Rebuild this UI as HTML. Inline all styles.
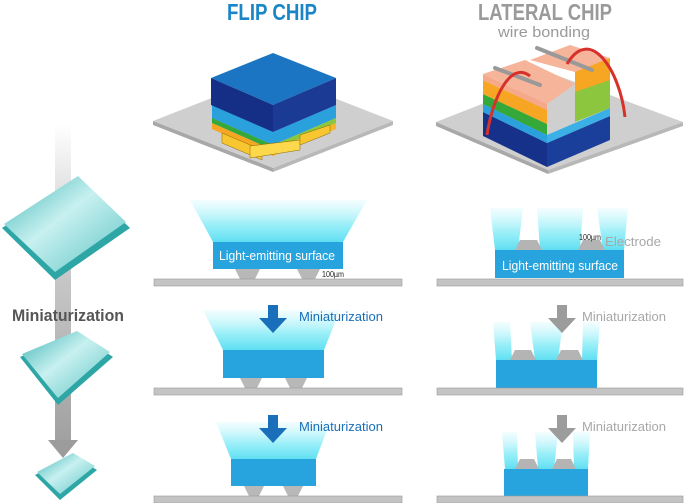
<!DOCTYPE html>
<html><head><meta charset="utf-8"><style>
html,body{margin:0;padding:0;background:#fff;}
svg{display:block;}
text{font-family:"Liberation Sans",sans-serif;}
</style></head><body>
<svg width="684" height="503" viewBox="0 0 684 503" xmlns="http://www.w3.org/2000/svg">
<defs>
<linearGradient id="glow" x1="0" y1="0" x2="0" y2="1">
<stop offset="0" stop-color="#aef4fb" stop-opacity="0.15"/>
<stop offset="0.6" stop-color="#7eeaf6" stop-opacity="0.8"/>
<stop offset="1" stop-color="#5fdff2"/>
</linearGradient>
<linearGradient id="bar" x1="0" y1="0" x2="0" y2="1">
<stop offset="0" stop-color="#fff"/>
<stop offset="0.3" stop-color="#d4d4d4"/>
<stop offset="1" stop-color="#a0a0a0"/>
</linearGradient>
<linearGradient id="chipg" x1="0" y1="0" x2="1" y2="1">
<stop offset="0" stop-color="#3fb5b5"/>
<stop offset="0.45" stop-color="#c8f0f0"/>
<stop offset="1" stop-color="#5cc4c4"/>
</linearGradient>
</defs>

<!-- titles -->
<text x="227" y="20" font-size="23" font-weight="bold" fill="#1a86c8" textLength="90" lengthAdjust="spacingAndGlyphs">FLIP CHIP</text>
<text x="478" y="20" font-size="23" font-weight="bold" fill="#9a9a9a" textLength="134" lengthAdjust="spacingAndGlyphs">LATERAL CHIP</text>
<text x="498" y="37" font-size="15" fill="#9a9a9a" textLength="92" lengthAdjust="spacingAndGlyphs">wire bonding</text>

<!-- left column -->
<rect x="55" y="125" width="16" height="320" fill="url(#bar)"/>
<polygon points="48,440 78,440 63,458" fill="#9c9c9c"/>
<g>
<polygon points="2,228 78,178 130,228 55,280" fill="#2ea6a6"/>
<polygon points="4,224 78,176 126,222 55,272" fill="url(#chipg)"/>
</g>
<g>
<polygon points="20,357 77,333 113,357 58,405" fill="#2ea6a6"/>
<polygon points="22,354 77,331 110,352 58,398" fill="url(#chipg)"/>
</g>
<g>
<polygon points="35,475 73,455 97,470 60,500" fill="#2ea6a6"/>
<polygon points="37,472 73,453 95,466 60,494" fill="url(#chipg)"/>
</g>
<text x="12" y="321" font-size="17" font-weight="bold" fill="#555" textLength="112" lengthAdjust="spacingAndGlyphs">Miniaturization</text>

<!-- top flip chip -->
<polygon points="153,121 273,74 393,121 273,168" fill="#cfcfcf"/>
<polygon points="153,121 273,168 273,172 153,125" fill="#a8a8a8"/>
<polygon points="273,168 393,121 393,125 273,172" fill="#b8b8b8"/>
<polygon points="212,105 273,132 273,145 212,118" fill="#2aa0dc"/>
<polygon points="273,132 336,105 336,118 273,145" fill="#2aa0dc"/>
<polygon points="212,118 273,145 273,150 212,123" fill="#35a83a"/>
<polygon points="273,145 336,118 336,123 273,150" fill="#8cc63f"/>
<polygon points="212,123 273,150 273,156 212,129" fill="#f6a623"/>
<polygon points="273,150 336,123 336,129 273,156" fill="#f6b52a"/>
<polygon points="222,133 262,150 262,160 222,143" fill="#f7c630" stroke="#8a6a00" stroke-width="0.5"/>
<polygon points="250,146 300,140 300,150 250,158" fill="#fcd84c" stroke="#8a6a00" stroke-width="0.5"/>
<polygon points="300,135 330,125 330,133 300,145" fill="#f7c630" stroke="#8a6a00" stroke-width="0.5"/>
<polygon points="273,53 336,78 273,105 211,78" fill="#1b75c2"/>
<polygon points="211,78 273,105 273,132 211,105" fill="#162f86"/>
<polygon points="273,105 336,78 336,105 273,132" fill="#1a3a94"/>

<!-- top lateral chip -->
<polygon points="436,122 556,75 683,122 548,170" fill="#cfcfcf"/>
<polygon points="436,122 548,170 548,174 436,126" fill="#a8a8a8"/>
<polygon points="548,170 683,122 683,126 548,174" fill="#b8b8b8"/>
<polygon points="483,112 547,143 547,167 483,136" fill="#16318a"/>
<polygon points="547,143 610,116 610,140 547,167" fill="#1a3f9a"/>
<polygon points="483,104 547,135 547,143 483,112" fill="#2aa0dc"/>
<polygon points="547,135 610,108 610,116 547,143" fill="#3ab0e6"/>
<polygon points="483,94 547,124 547,135 483,104" fill="#35a83a"/>
<polygon points="483,80 547,110 547,124 483,94" fill="#f6a623"/>
<polygon points="483,74 547,104 547,110 483,80" fill="#f5a98a"/>
<polygon points="483,74 525,60 575,84 547,104" fill="#f6b49a"/>
<polygon points="575,84 610,72 610,108 575,122" fill="#8cc63f"/>
<polygon points="575,70 610,58 610,80 575,92" fill="#f6a623"/>
<polygon points="530,60 570,45 610,58 575,72" fill="#f6b49a"/>
<line x1="495" y1="68" x2="540" y2="85" stroke="#999" stroke-width="4" stroke-linecap="round"/>
<line x1="537" y1="48" x2="592" y2="70" stroke="#999" stroke-width="4" stroke-linecap="round"/>
<path d="M487,135 C492,100 510,60 530,76" stroke="#d8302a" stroke-width="3" fill="none"/>
<path d="M567,64 C590,25 620,70 625,117" stroke="#d8302a" stroke-width="3" fill="none"/>

<!-- Row 1 flip -->
<polygon points="190,200 367,200 343,242 213,242" fill="url(#glow)"/>
<polygon points="235,269 260,269 255,279 240,279" fill="#b8b8b8"/>
<polygon points="297,269 320,269 315,279 302,279" fill="#b8b8b8"/>
<rect x="213" y="242" width="130" height="27" fill="#27a4de"/>
<text x="219" y="260" font-size="13" fill="#fff" textLength="116" lengthAdjust="spacingAndGlyphs">Light-emitting surface</text>
<rect x="154" y="279" width="248" height="7" fill="#c4c4c4" stroke="#999" stroke-width="0.6"/>
<text x="322" y="277" font-size="8" fill="#222" textLength="22" lengthAdjust="spacingAndGlyphs">100µm</text>

<!-- Row 2 flip -->
<polygon points="203,310 340,310 324,350 223,350" fill="url(#glow)"/>
<polygon points="240,378 262,378 257,388 245,388" fill="#b8b8b8"/>
<polygon points="285,378 307,378 302,388 290,388" fill="#b8b8b8"/>
<rect x="223" y="350" width="101" height="28" fill="#27a4de"/>
<rect x="154" y="388" width="248" height="7" fill="#c4c4c4" stroke="#999" stroke-width="0.6"/>
<rect x="268" y="305" width="10" height="14" fill="#1a6fba"/>
<polygon points="259,318 287,318 273,333" fill="#1a6fba"/>
<text x="299" y="321" font-size="13" fill="#1a6fba" textLength="84" lengthAdjust="spacingAndGlyphs">Miniaturization</text>

<!-- Row 3 flip -->
<polygon points="216,422 330,422 316,459 231,459" fill="url(#glow)"/>
<polygon points="244,486 264,486 259,496 249,496" fill="#b8b8b8"/>
<polygon points="283,486 303,486 298,496 288,496" fill="#b8b8b8"/>
<rect x="231" y="459" width="85" height="27" fill="#27a4de"/>
<rect x="154" y="496" width="248" height="7" fill="#c4c4c4" stroke="#999" stroke-width="0.6"/>
<rect x="268" y="415" width="10" height="14" fill="#1a6fba"/>
<polygon points="259,428 287,428 273,443" fill="#1a6fba"/>
<text x="299" y="431" font-size="13" fill="#1a6fba" textLength="84" lengthAdjust="spacingAndGlyphs">Miniaturization</text>

<!-- Row 1 lateral -->
<polygon points="490,208 523,208 518,250 495,250" fill="url(#glow)"/>
<polygon points="537,208 583,208 580,250 540,250" fill="url(#glow)"/>
<polygon points="597,208 628,208 624,250 603,250" fill="url(#glow)"/>
<polygon points="520,240 537,240 542,250 515,250" fill="#b4b4b4"/>
<polygon points="583,240 600,240 605,250 578,250" fill="#b4b4b4"/>
<rect x="495" y="250" width="129" height="28" fill="#27a4de"/>
<text x="502" y="270" font-size="13" fill="#fff" textLength="116" lengthAdjust="spacingAndGlyphs">Light-emitting surface</text>
<rect x="437" y="279" width="246" height="7" fill="#c4c4c4" stroke="#999" stroke-width="0.6"/>
<text x="579" y="240" font-size="8" fill="#222" textLength="22" lengthAdjust="spacingAndGlyphs">100µm</text>
<text x="605" y="246" font-size="13" fill="#a8a8a8" textLength="56" lengthAdjust="spacingAndGlyphs">Electrode</text>

<!-- Row 2 lateral -->
<polygon points="493,322 510,322 512,360 496,360" fill="url(#glow)"/>
<polygon points="530,322 563,322 558,360 535,360" fill="url(#glow)"/>
<polygon points="583,322 600,322 597,360 582,360" fill="url(#glow)"/>
<polygon points="515,350 531,350 536,360 510,360" fill="#b4b4b4"/>
<polygon points="561,350 578,350 583,360 556,360" fill="#b4b4b4"/>
<rect x="496" y="360" width="101" height="28" fill="#27a4de"/>
<rect x="437" y="388" width="246" height="7" fill="#c4c4c4" stroke="#999" stroke-width="0.6"/>
<rect x="557" y="305" width="10" height="14" fill="#9c9c9c"/>
<polygon points="548,318 576,318 562,333" fill="#9c9c9c"/>
<text x="582" y="321" font-size="13" fill="#a8a8a8" textLength="84" lengthAdjust="spacingAndGlyphs">Miniaturization</text>

<!-- Row 3 lateral -->
<polygon points="502,432 517,432 518,469 505,469" fill="url(#glow)"/>
<polygon points="535,432 558,432 554,469 538,469" fill="url(#glow)"/>
<polygon points="573,432 590,432 588,469 574,469" fill="url(#glow)"/>
<polygon points="520,459 534,459 539,469 515,469" fill="#b4b4b4"/>
<polygon points="557,459 571,459 576,469 552,469" fill="#b4b4b4"/>
<rect x="504" y="469" width="84" height="27" fill="#27a4de"/>
<rect x="437" y="496" width="246" height="7" fill="#c4c4c4" stroke="#999" stroke-width="0.6"/>
<rect x="557" y="415" width="10" height="14" fill="#9c9c9c"/>
<polygon points="548,428 576,428 562,443" fill="#9c9c9c"/>
<text x="582" y="431" font-size="13" fill="#a8a8a8" textLength="84" lengthAdjust="spacingAndGlyphs">Miniaturization</text>
</svg>
</body></html>
